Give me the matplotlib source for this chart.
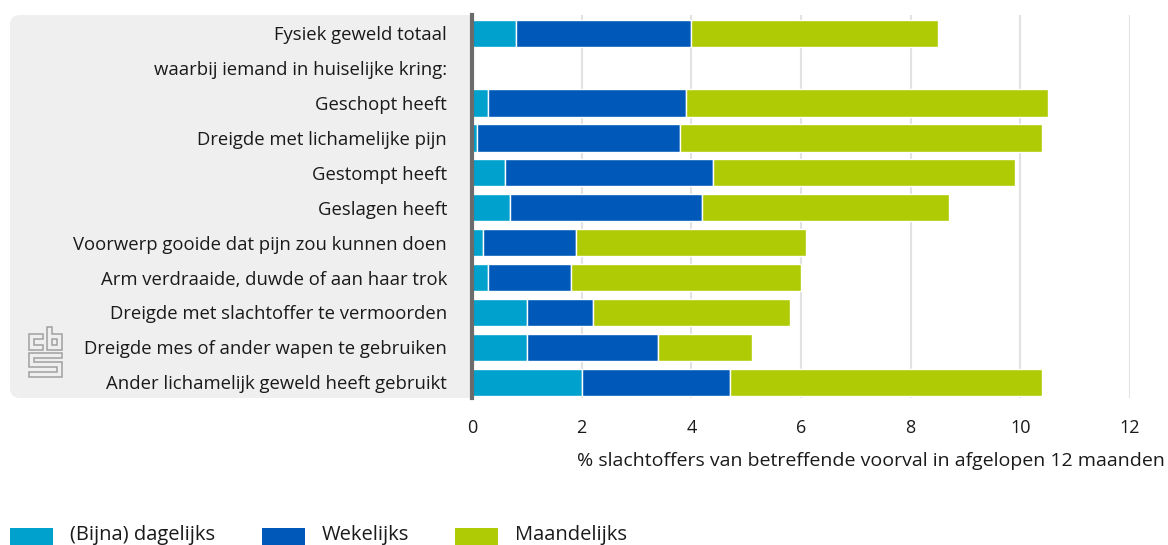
import numpy as np
import matplotlib.pyplot as plt
from matplotlib.patches import FancyBboxPatch, Rectangle, Polygon
from matplotlib.transforms import IdentityTransform

plt.rcParams['font.family'] = ['Open Sans', 'DejaVu Sans']

# categorieen (tweede rij is een tussenkop zonder balk)
categories = [
    'Fysiek geweld totaal',
    'waarbij iemand in huiselijke kring:',
    'Geschopt heeft',
    'Dreigde met lichamelijke pijn',
    'Gestompt heeft',
    'Geslagen heeft',
    'Voorwerp gooide dat pijn zou kunnen doen',
    'Arm verdraaide, duwde of aan haar trok',
    'Dreigde met slachtoffer te vermoorden',
    'Dreigde mes of ander wapen te gebruiken',
    'Ander lichamelijk geweld heeft gebruikt',
]
dagelijks = [0.8, np.nan, 0.3, 0.1, 0.6, 0.7, 0.2, 0.3, 1.0, 1.0, 2.0]
wekelijks = [3.2, np.nan, 3.6, 3.7, 3.8, 3.5, 1.7, 1.5, 1.2, 2.4, 2.7]
maandelijks = [4.5, np.nan, 6.6, 6.6, 5.5, 4.5, 4.2, 4.2, 3.6, 1.7, 5.7]
series = ['(Bijna) dagelijks', 'Wekelijks', 'Maandelijks']
colors = ['#00a1cd', '#0058b8', '#afcb05']
xticks = [0, 2, 4, 6, 8, 10, 12]
xlabel = '% slachtoffers van betreffende voorval in afgelopen 12 maanden'
txt = '#1a1a1a'

W, H = 1168, 545
fig = plt.figure(figsize=(W / 100, H / 100), dpi=100)

# grijs vlak achter de labels
panel = FancyBboxPatch((10, H - 398), 480, 383, boxstyle='round,pad=0,rounding_size=10',
                       transform=IdentityTransform(), facecolor='#efefef', edgecolor='none',
                       zorder=-1)
fig.patches.append(panel)

ax = fig.add_axes([472 / W, 1 - 398 / H, (1130 - 472) / W, (398 - 15) / H])
ax.set_facecolor('white')

y = np.arange(len(categories))
left = np.zeros(len(categories))
for vals, col, name in zip([dagelijks, wekelijks, maandelijks], colors, series):
    v = np.array(vals, dtype=float)
    ax.barh(y, v, left=left, height=0.78, color=col, edgecolor='white', linewidth=1,
            label=name, zorder=3)
    left = left + np.nan_to_num(v)

ax.set_xlim(0, 12)
ax.set_ylim(10.45, -0.52)
ax.set_xticks(xticks)
ax.set_xticklabels([str(t) for t in xticks])
ax.set_yticks(y)
ax.set_yticklabels(categories)
ax.tick_params(axis='x', length=0, pad=15, labelsize=13, labelcolor=txt)
ax.tick_params(axis='y', length=0, pad=18, labelsize=13.3, labelcolor=txt)
ax.grid(axis='x', color='#e2e2e2', linewidth=1.5, zorder=0)
for s in ['top', 'right', 'bottom']:
    ax.spines[s].set_visible(False)
ax.spines['left'].set_color('#6b6b6b')
ax.spines['left'].set_linewidth(3)
ax.spines['left'].set_zorder(5)

fig.text(1165 / W, 1 - 461 / H, xlabel, ha='right', va='center', fontsize=14, color=txt)

# legenda onderaan
leg_x = [10, 262, 455]
for lx, col, name in zip(leg_x, colors, series):
    fig.patches.append(Rectangle((lx, 0), 43, 17, transform=IdentityTransform(),
                                 facecolor=col, edgecolor='none'))
    fig.text((lx + 60) / W, 1 - 535 / H, name, ha='left', va='center', fontsize=14.5,
             color=txt)

# cbs-logo (benadering met omlijnde vormen, in pixels van boven gemeten)
logo = [
    [(43, 334), (29, 334), (29, 350), (43, 350), (43, 345), (34, 345), (34, 339), (43, 339)],
    [(47, 327), (52, 327), (52, 334), (62, 334), (62, 350), (47, 350)],
    [(52, 339), (57, 339), (57, 345), (52, 345)],
    [(62, 353), (29, 353), (29, 367), (57, 367), (57, 372), (29, 372), (29, 377),
     (62, 377), (62, 362), (34, 362), (34, 358), (62, 358)],
]
for shape in logo:
    pts = [(px, H - py) for px, py in shape]
    fig.patches.append(Polygon(pts, closed=True, transform=IdentityTransform(),
                               facecolor='none', edgecolor='#a0a0a0', linewidth=1.1))

fig.savefig('out.png', dpi=100)
